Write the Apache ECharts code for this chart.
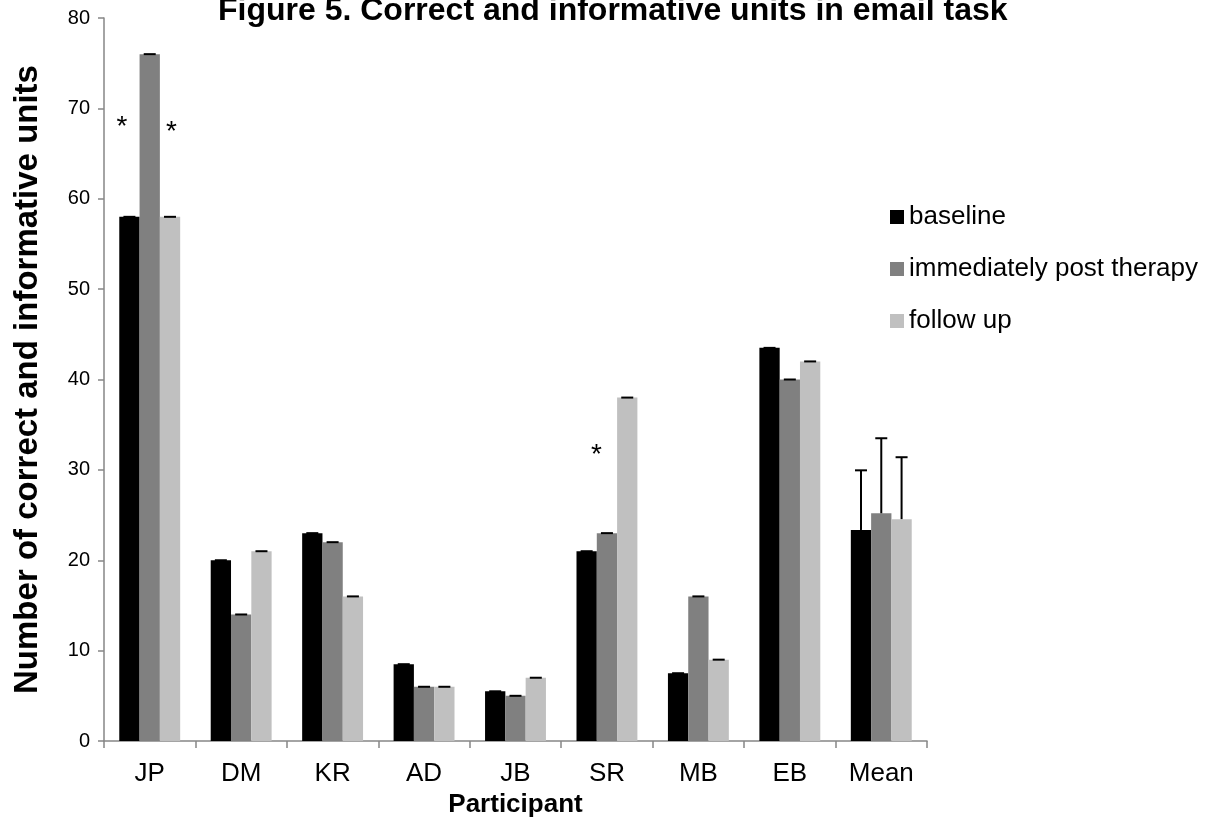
<!DOCTYPE html>
<html>
<head>
<meta charset="utf-8">
<script src="https://cdn.jsdelivr.net/npm/echarts@6/dist/echarts.min.js"></script>
<style>
html,body{margin:0;padding:0;background:#fff;}
#chart{width:1213px;height:825px;}
</style>
</head>
<body>
<div id="chart"></div>
<script>
var categories = ['JP','DM','KR','AD','JB','SR','MB','EB','Mean'];
var seriesNames = ['baseline','immediately post therapy','follow up'];
var baseline = [58, 20, 23, 8.5, 5.5, 21, 7.5, 43.5, 23.35];
var postTherapy = [76, 14, 22, 6, 5, 23, 16, 40, 25.2];
var followUp = [58, 21, 16, 6, 7, 38, 9, 42, 24.55];
var baselineErr = [0, 0, 0, 0, 0, 0, 0, 0, 6.6];
var postTherapyErr = [0, 0, 0, 0, 0, 0, 0, 0, 8.3];
var followUpErr = [0, 0, 0, 0, 0, 0, 0, 0, 6.85];
var yTicks = [0, 10, 20, 30, 40, 50, 60, 70, 80];
var colors = ['#000000', '#808080', '#c0c0c0'];

var FONT = '"Liberation Sans", Arial, sans-serif';
var chart = echarts.init(document.getElementById('chart'), null, {renderer:'canvas'});

var values = [baseline, postTherapy, followUp];
var errs = [baselineErr, postTherapyErr, followUpErr];

function errSeries(idx) {
  var data = categories.map(function(c, i){ return [i, values[idx][i], values[idx][i] + errs[idx][i]]; });
  return {
    type: 'custom',
    name: seriesNames[idx] + ' err',
    z: 10,
    silent: true,
    renderItem: function(params, api) {
      var ci = api.value(0);
      var base = api.coord([ci, api.value(1)]);
      var top = api.coord([ci, api.value(2)]);
      var bandW = api.size([1, 0])[0];
      var barW = bandW * 0.666 / 3;
      var x = base[0] - bandW * 0.333 + barW * (idx + 0.5);
      var capHalf = 6;
      var children = [];
      if (top[1] < base[1] - 0.5) {
        children.push({type:'line', shape:{x1:x, y1:base[1], x2:x, y2:top[1]}, style:{stroke:'#000', lineWidth:2}});
      }
      children.push({type:'line', shape:{x1:x-capHalf, y1:top[1], x2:x+capHalf, y2:top[1]}, style:{stroke:'#000', lineWidth:2}});
      return {type:'group', children: children};
    },
    data: data
  };
}

var stars = [
  {series: 0, coord: ['JP', 67.9], offset: [-7.5, 0]},
  {series: 2, coord: ['JP', 67.3], offset: [1.5, 0]},
  {series: 1, coord: ['SR', 31.6], offset: [-10.5, 0]}
];

var barSeries = values.map(function(v, idx){
  var mp = stars.filter(function(s){ return s.series === idx; }).map(function(s){
    return {coord: s.coord, value: '*', label: {offset: s.offset}};
  });
  return {
    type: 'bar',
    name: seriesNames[idx],
    data: v,
    barGap: '0%',
    barCategoryGap: '33.4%',
    itemStyle: {color: colors[idx]},
    markPoint: mp.length ? {
      symbol: 'circle', symbolSize: 1, itemStyle: {color: 'rgba(0,0,0,0)'},
      label: {show: true, position: 'inside', formatter: '*', color: '#000', fontSize: 28, fontFamily: FONT},
      data: mp
    } : undefined
  };
});

var option = {
  backgroundColor: '#ffffff',
  animation: false,
  title: {
    text: 'Figure 5. Correct and informative units in email task',
    left: 213, top: -10,
    textStyle: {fontFamily: FONT, fontWeight: 'bold', fontSize: 32, color: '#000'}
  },
  legend: {
    data: seriesNames,
    orient: 'vertical',
    left: 885, top: 199,
    itemWidth: 14, itemHeight: 14, itemGap: 26,
    icon: 'rect',
    textStyle: {fontFamily: FONT, fontSize: 26, color: '#000'}
  },
  grid: {left: 104, right: 286, top: 18, bottom: 84, containLabel: false},
  xAxis: {
    type: 'category',
    data: categories,
    name: 'Participant',
    nameLocation: 'middle',
    nameGap: 45,
    nameTextStyle: {fontFamily: FONT, fontWeight: 'bold', fontSize: 26, color: '#000'},
    axisLine: {lineStyle: {color: '#868686', width: 1.5}},
    axisTick: {show: true, length: 7, lineStyle: {color: '#868686', width: 1.5}},
    axisLabel: {fontFamily: FONT, fontSize: 26, color: '#000', margin: 20}
  },
  yAxis: {
    type: 'value',
    min: 0, max: 80, interval: 10,
    name: 'Number of correct and informative units',
    nameLocation: 'middle',
    nameGap: 60,
    nameTextStyle: {fontFamily: FONT, fontWeight: 'bold', fontSize: 33, color: '#000'},
    axisLine: {show: true, lineStyle: {color: '#868686', width: 1.5}},
    axisTick: {show: true, length: 6, lineStyle: {color: '#868686', width: 1.5}},
    splitLine: {show: false},
    axisLabel: {fontFamily: FONT, fontSize: 20, color: '#000', margin: 14,
      formatter: function(v){ return yTicks.indexOf(v) >= 0 ? String(v) : ''; }}
  },
  series: barSeries.concat([errSeries(0), errSeries(1), errSeries(2)])
};
chart.setOption(option);
</script>
</body>
</html>
